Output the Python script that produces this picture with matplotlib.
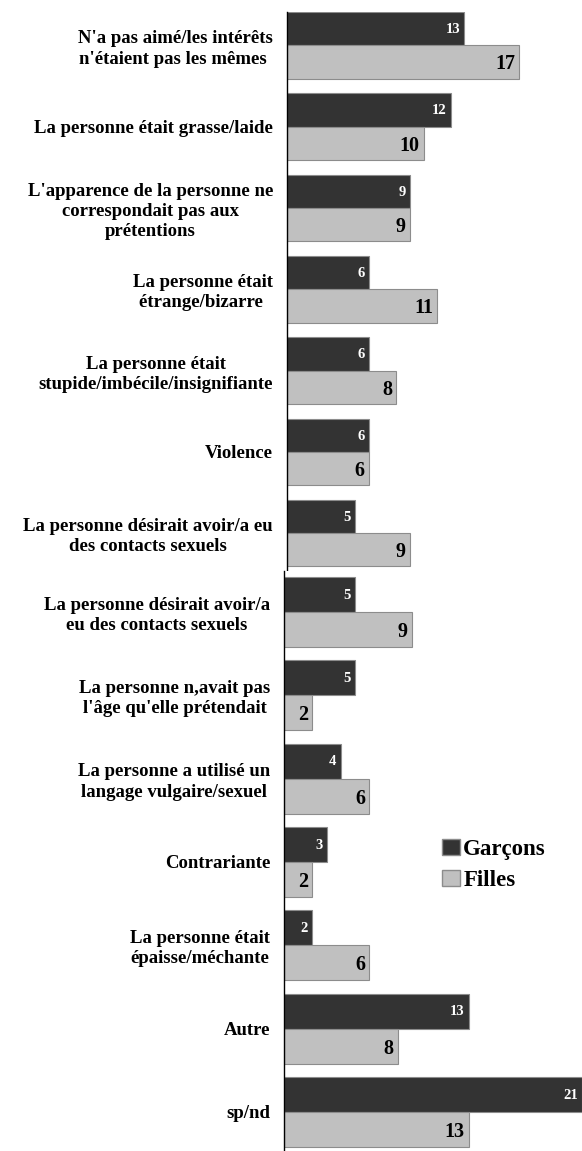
import numpy as np
import matplotlib.pyplot as plt
from matplotlib.patches import Patch

plt.rcParams['font.family'] = ['Liberation Serif', 'DejaVu Serif']
plt.rcParams['font.weight'] = 'bold'

cats_top = ["N'a pas aimé/les intérêts\nn'étaient pas les mêmes ",
            "La personne était grasse/laide",
            "L'apparence de la personne ne\ncorrespondait pas aux\nprétentions",
            "La personne était\nétrange/bizarre ",
            "La personne était\nstupide/imbécile/insignifiante",
            "Violence",
            "La personne désirait avoir/a eu\ndes contacts sexuels"]
garcons_top = [13, 12, 9, 6, 6, 6, 5]
filles_top = [17, 10, 9, 11, 8, 6, 9]

cats_bot = ["La personne désirait avoir/a\neu des contacts sexuels",
            "La personne n,avait pas\nl'âge qu'elle prétendait",
            "La personne a utilisé un\nlangage vulgaire/sexuel",
            "Contrariante",
            "La personne était\népaisse/méchante",
            "Autre",
            "sp/nd"]
garcons_bot = [5, 5, 4, 3, 2, 13, 21]
filles_bot = [9, 2, 6, 2, 6, 8, 13]

dark = '#333333'
light = '#c0c0c0'
edge = '#8c8c8c'

W, H = 582, 1151
fig = plt.figure(figsize=(W / 100, H / 100), dpi=100)


def panel(rect, cats, g, f, xmax, ylim, bh, pad):
    ax = fig.add_axes(rect)
    y = np.arange(len(cats))
    ax.barh(y - bh / 2, g, height=bh, color=dark, edgecolor=edge, linewidth=0.8)
    ax.barh(y + bh / 2, f, height=bh, color=light, edgecolor=edge, linewidth=0.8)
    for yi, v in zip(y, g):
        ax.text(v - 0.3, yi - bh / 2 + 0.01, str(v), ha='right', va='center',
                color='white', fontsize=10.5, fontweight='bold')
    for yi, v in zip(y, f):
        ax.text(v - 0.3, yi + bh / 2 + 0.03, str(v), ha='right', va='center',
                color='black', fontsize=14.5, fontweight='bold')
    ax.set_xlim(0, xmax)
    ax.set_ylim(*ylim)
    ax.set_yticks(y)
    ax.set_yticklabels(cats, fontsize=13.5, fontweight='bold', multialignment='center',
                       linespacing=1.25)
    ax.tick_params(axis='y', length=0, pad=pad)
    ax.set_xticks([])
    for s in ['top', 'right', 'bottom']:
        ax.spines[s].set_visible(False)
    ax.spines['left'].set_color('black')
    ax.spines['left'].set_linewidth(1.0)
    return ax


# top chart: axis x=287, y 12..573, 13.65 px per unit
panel([287 / W, 1 - 573 / H, 21 * 13.65 / W, 561 / H],
      cats_top, garcons_top, filles_top, 21, (6.49, -0.41), 0.41, 10)

# bottom chart: axis x=284, y 571..1151, 14.2 px per unit
ax2 = panel([284 / W, 0, 21 * 14.2 / W, 580 / H],
            cats_bot, garcons_bot, filles_bot, 21, (6.47, -0.49), 0.42, 10)

handles = [Patch(facecolor=dark, edgecolor=edge), Patch(facecolor=light, edgecolor=edge)]
fig.legend(handles, ['Garçons', 'Filles'], loc='center left',
           bbox_to_anchor=(442 / W, 1 - 865 / H), frameon=False, borderpad=0,
           borderaxespad=0, prop={'size': 16.5, 'weight': 'bold'},
           handlelength=0.78, handleheight=0.7, handletextpad=0.15, labelspacing=0.45)

fig.savefig('out.png', dpi=100)
